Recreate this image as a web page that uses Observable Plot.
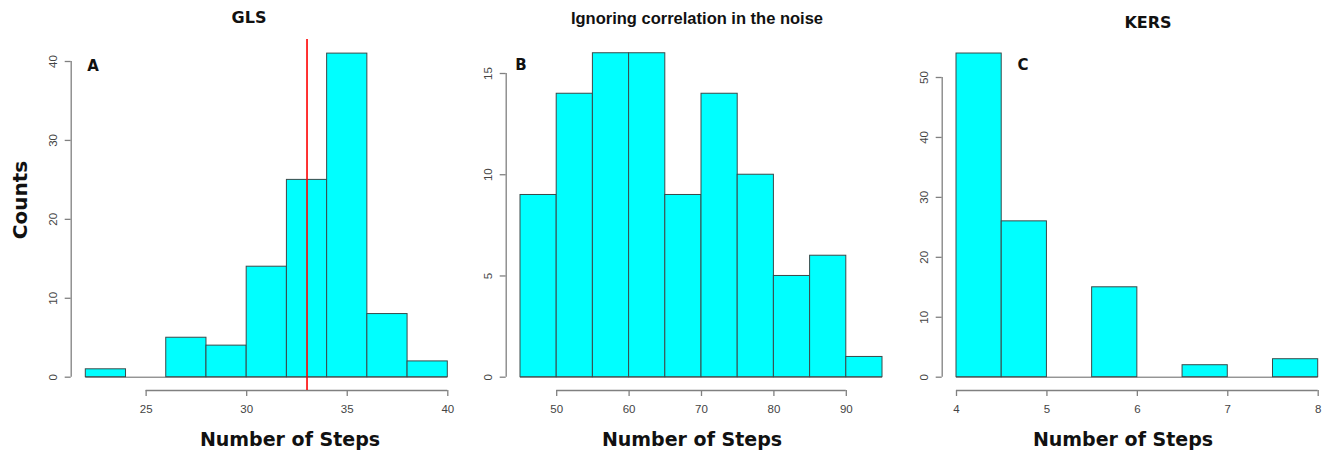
<!DOCTYPE html>
<html><head><meta charset="utf-8">
<script src="https://cdn.jsdelivr.net/npm/d3@7"></script>
<script src="https://cdn.jsdelivr.net/npm/@observablehq/plot@0.6"></script>
<style>
body{margin:0;background:#fff;}
#wrap{position:relative;width:1326px;height:452px;overflow:hidden;background:#fff;}
.panel{position:absolute;top:0;}
.lbl{position:absolute;transform:translate(-50%,-50%);white-space:nowrap;color:#111;line-height:1;}
.dv{font-family:"DejaVu Sans",Verdana,sans-serif;font-weight:bold;}
.ar{font-family:"Liberation Sans",Arial,sans-serif;font-weight:bold;}
</style></head><body><div id="wrap"></div>
<script>
// Panel A: GLS
const glsEdges = [22,24,26,28,30,32,34,36,38,40];
const glsCounts = [1,0,5,4,14,25,41,8,2];
const glsReference = [33];
const glsXTicks = [25,30,35,40];
const glsYTicks = [0,10,20,30,40];
// Panel B: Ignoring correlation in the noise
const ignEdges = [45,50,55,60,65,70,75,80,85,90,95];
const ignCounts = [9,14,16,16,9,14,10,5,6,1];
const ignXTicks = [50,60,70,80,90];
const ignYTicks = [0,5,10,15];
// Panel C: KERS
const kersEdges = [4,4.5,5,5.5,6,6.5,7,7.5,8];
const kersCounts = [54,26,0,15,0,2,0,3];
const kersXTicks = [4,5,6,7,8];
const kersYTicks = [0,10,20,30,40,50];

const wrap = document.getElementById("wrap");

function panel(cfg) {
  const bins = cfg.counts.map((c, i) => ({x1: cfg.edges[i], x2: cfg.edges[i + 1], count: c}));
  const insetBottom = 13.3;
  const marks = [
    Plot.ruleY([0], {x1: cfg.edges[0], x2: cfg.edges[cfg.edges.length - 1], stroke: "#666", strokeWidth: 1}),
    Plot.rectY(bins.filter(d => d.count > 0), {x1: "x1", x2: "x2", y: "count", fill: "#00ffff", stroke: "#3a4a4a", strokeWidth: 1}),
    Plot.ruleX([cfg.edges[0]], {y1: cfg.yTicks[0], y2: cfg.yTicks[cfg.yTicks.length - 1], dx: -cfg.insetLeft, stroke: "#808080", strokeWidth: 1.3}),
    Plot.ruleY([0], {x1: cfg.xTicks[0], x2: cfg.xTicks[cfg.xTicks.length - 1], dy: insetBottom, stroke: "#808080", strokeWidth: 1.3}),
    Plot.axisY({ticks: cfg.yTicks, tickSize: 6, tickPadding: 8, tickRotate: -90, fontSize: 11.5, stroke: "#808080", strokeWidth: 1.3, fill: "#444", label: null}),
    Plot.axisX({ticks: cfg.xTicks, tickSize: 6, tickPadding: 8, fontSize: 11.5, stroke: "#808080", strokeWidth: 1.3, fill: "#444", label: null, tickFormat: d => String(d)})
  ];
  if (cfg.extra) marks.push(...cfg.extra);
  const svg = Plot.plot({
    width: cfg.width, height: 452,
    marginLeft: cfg.marginLeft, marginRight: cfg.marginRight, marginTop: cfg.marginTop, marginBottom: 62,
    style: {fontFamily: "'Liberation Sans', Arial, sans-serif", fontSize: "11.5px", background: "transparent", overflow: "visible"},
    x: {domain: [cfg.edges[0], cfg.edges[cfg.edges.length - 1]], insetLeft: cfg.insetLeft},
    y: {domain: [cfg.yTicks[0], cfg.yTicks[cfg.yTicks.length - 1]], insetBottom: insetBottom},
    marks
  });
  svg.classList.add("panel");
  svg.style.left = cfg.left + "px";
  wrap.appendChild(svg);
}

panel({left: 0, width: 470, marginLeft: 70.7, marginRight: 22.7, marginTop: 61, insetLeft: 14.6,
  edges: glsEdges, counts: glsCounts, xTicks: glsXTicks, yTicks: glsYTicks,
  extra: [Plot.ruleX(glsReference, {stroke: "#ff0000", strokeWidth: 1.6, insetTop: -22})]});
panel({left: 470, width: 430, marginLeft: 35.7, marginRight: 18, marginTop: 73, insetLeft: 14.3,
  edges: ignEdges, counts: ignCounts, xTicks: ignXTicks, yTicks: ignYTicks});
panel({left: 900, width: 426, marginLeft: 41.7, marginRight: 8.3, marginTop: 77, insetLeft: 14.3,
  edges: kersEdges, counts: kersCounts, xTicks: kersXTicks, yTicks: kersYTicks});

function label(text, x, y, cls, size, rotate) {
  const d = document.createElement("div");
  d.className = "lbl " + cls;
  d.textContent = text;
  d.style.left = x + "px";
  d.style.top = y + "px";
  d.style.fontSize = size + "px";
  if (rotate) d.style.transform = "translate(-50%,-50%) rotate(" + rotate + "deg)";
  wrap.appendChild(d);
}
label("GLS", 249, 18, "dv", 16);
label("Ignoring correlation in the noise", 697, 18, "ar", 16.5);
label("KERS", 1148, 23, "dv", 16);
label("A", 93, 66, "dv", 15);
label("B", 521, 65, "dv", 15);
label("C", 1023, 65, "dv", 15);
label("Number of Steps", 290, 439, "dv", 19);
label("Number of Steps", 692, 439, "dv", 19);
label("Number of Steps", 1123, 439, "dv", 19);
label("Counts", 20, 200, "dv", 20, -90);
</script></body></html>
